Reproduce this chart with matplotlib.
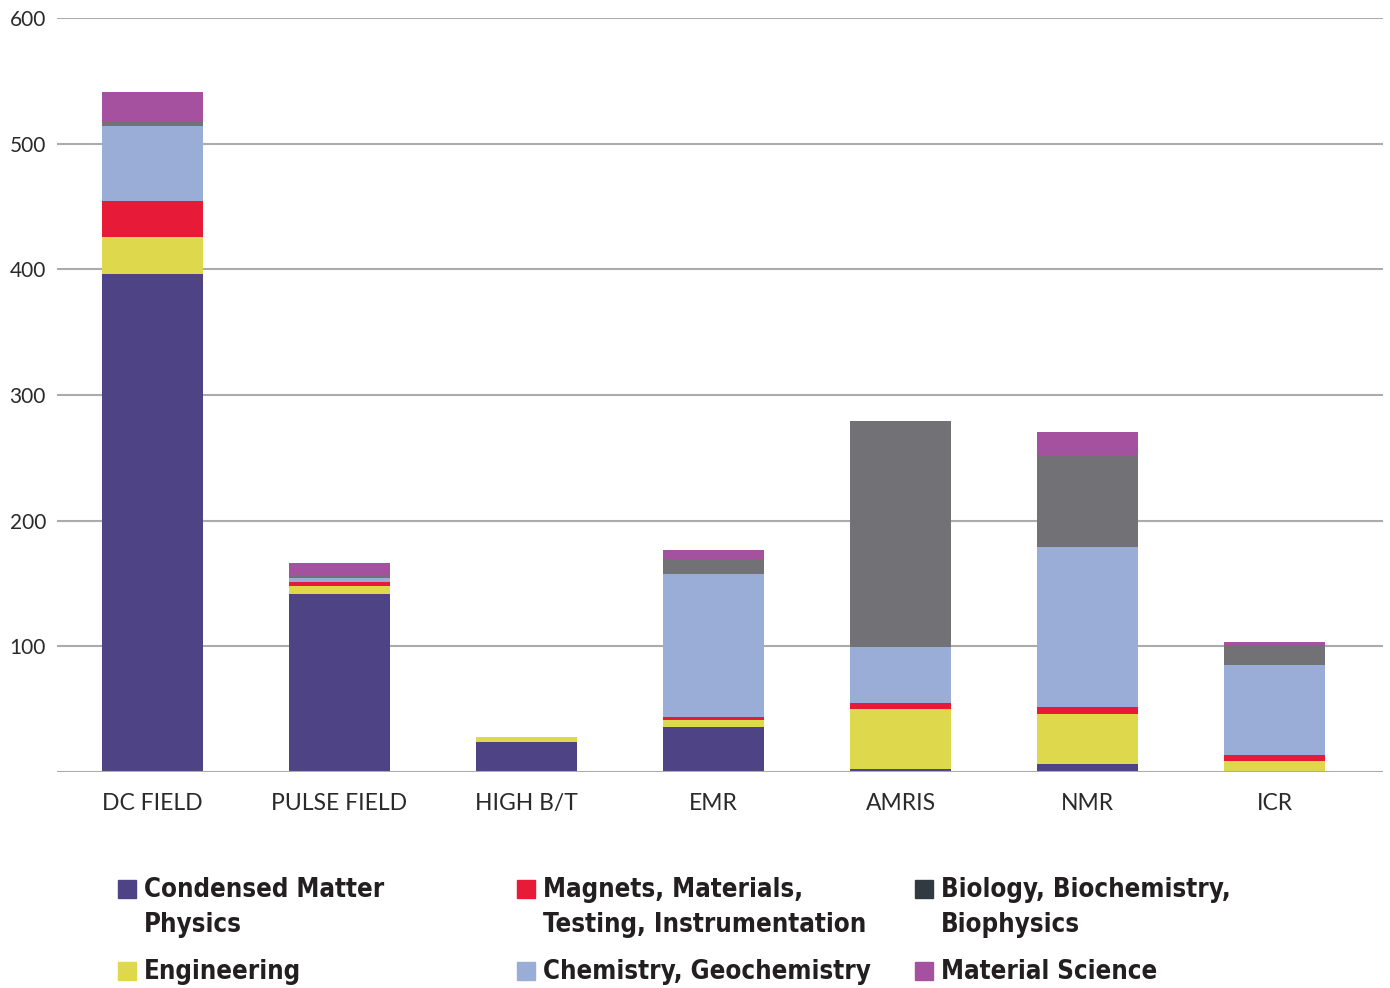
import numpy as np
import matplotlib.pyplot as plt
from matplotlib.patches import Rectangle

# facilities (x categories)
facilities = ["DC FIELD", "PULSE FIELD", "HIGH B/T", "EMR", "AMRIS", "NMR", "ICR"]

# stacked segments, bottom to top
condensed = [396, 142, 24, 36, 2.5, 6.5, 0]
engineering = [30, 6, 4, 5, 47.5, 40, 9]
magnets = [28, 3, 0, 2.5, 5, 5.5, 4.5]
chemistry = [60, 3, 0, 114, 44.5, 127, 71.5]
biology = [3, 2.5, 0, 12, 180, 73, 16]
material = [24, 9.5, 0, 7, 0, 18.5, 2.5]

series = [condensed, engineering, magnets, chemistry, biology, material]
bar_colors = ["#4e4485", "#ddd84c", "#e71a37", "#9aadd7", "#727176", "#a651a0"]

# legend, laid out in rows like the original
legend_labels = ["Condensed Matter\nPhysics", "Magnets, Materials,\nTesting, Instrumentation",
                 "Biology, Biochemistry,\nBiophysics", "Engineering",
                 "Chemistry, Geochemistry", "Material Science"]
legend_colors = ["#4e4485", "#e71a37", "#323a41", "#ddd84c", "#9aadd7", "#a651a0"]

yticks = [100, 200, 300, 400, 500, 600]

W, H = 1390, 988
fig = plt.figure(figsize=(W/100, H/100), dpi=100)
ax = fig.add_axes([57/W, 1-772/H, (1383-57)/W, (772-18)/H])

x = np.arange(len(facilities))
bottom = np.zeros(len(facilities))
for vals, col in zip(series, bar_colors):
    ax.bar(x, vals, width=0.54, bottom=bottom, color=col, zorder=3, linewidth=0)
    bottom += np.array(vals)

for yv in yticks:
    ax.axhline(yv, color="#ababab", lw=1.5, zorder=1)
ax.axhline(0, color="#ababab", lw=1.5, zorder=4)

ax.set_xlim(-0.508, 6.578)
ax.set_ylim(0, 600)
ax.set_yticks(yticks)
ax.set_xticks(x)
ax.set_xticklabels(facilities)
for s in ax.spines.values():
    s.set_visible(False)
ax.tick_params(axis="both", length=0, labelcolor="#2a2a2a")
ax.tick_params(axis="y", pad=8, labelsize=15)
ax.tick_params(axis="x", pad=15, labelsize=16.5)
for lab in ax.get_xticklabels() + ax.get_yticklabels():
    lab.set_family("Lato")

# manual legend (pixel positions, one text per line)
col_x = [118, 517, 915]
row_base = [897, 979]
for i, (lab, col) in enumerate(zip(legend_labels, legend_colors)):
    cx = col_x[i % 3]
    by = row_base[i // 3]
    fig.patches.append(Rectangle((cx/W, 1-(by+1)/H), 18/W, 18/H,
                                 transform=fig.transFigure, color=col))
    for j, line in enumerate(lab.split("\n")):
        fig.text((cx+26)/W, 1-(by+35*j)/H, line, ha="left", va="baseline",
                 fontsize=18.5, fontweight="bold", fontstretch="condensed",
                 family="DejaVu Sans", color="#231f20")

fig.savefig("out.png", dpi=100)
